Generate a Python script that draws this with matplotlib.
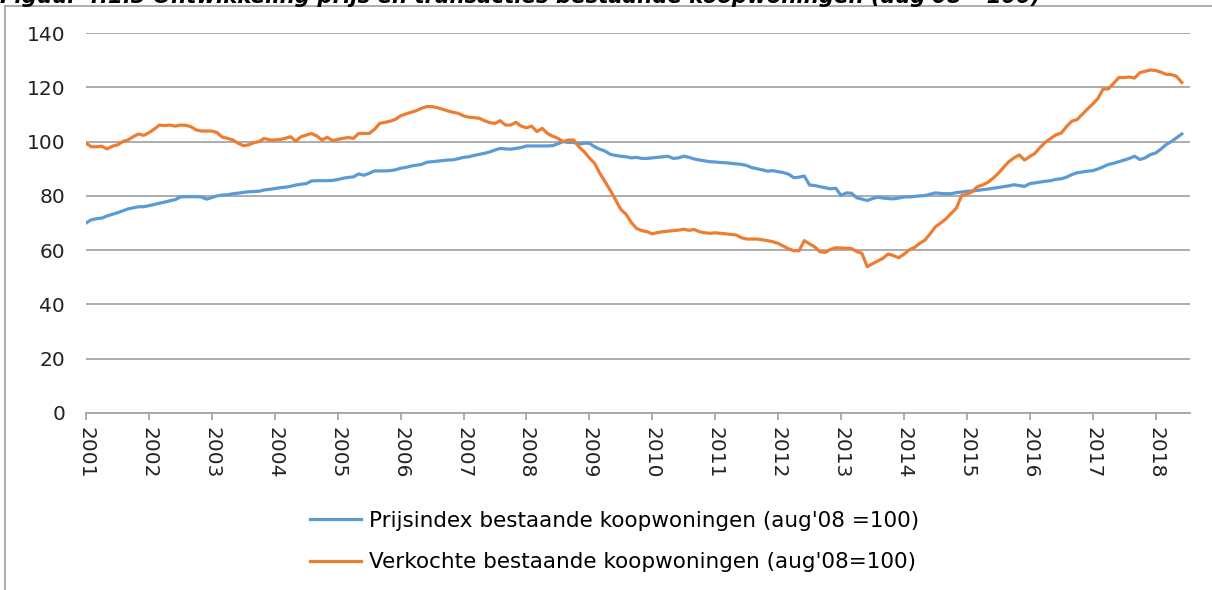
import matplotlib.pyplot as plt
import numpy as np

# monthly values, jan 2001 - jun 2018 (aug'08 = 100)
prijsindex = [
    70.0, 71.2, 71.6, 71.8, 72.6, 73.2, 73.8, 74.5, 75.2, 75.6, 76.0, 76.0,   # 2001
    76.4, 76.8, 77.3, 77.7, 78.2, 78.6, 79.6, 79.7, 79.7, 79.7, 79.6, 78.8,   # 2002
    79.4, 80.0, 80.3, 80.4, 80.8, 81.0, 81.3, 81.5, 81.6, 81.7, 82.2, 82.4,   # 2003
    82.7, 83.0, 83.2, 83.5, 84.0, 84.3, 84.5, 85.5, 85.6, 85.6, 85.6, 85.7,   # 2004
    86.0, 86.5, 86.8, 87.0, 88.1, 87.6, 88.3, 89.2, 89.2, 89.2, 89.3, 89.6,   # 2005
    90.2, 90.5, 91.0, 91.3, 91.6, 92.4, 92.6, 92.8, 93.0, 93.2, 93.3, 93.7,   # 2006
    94.2, 94.4, 94.9, 95.3, 95.7, 96.2, 96.9, 97.5, 97.3, 97.2, 97.5, 97.8,   # 2007
    98.4, 98.4, 98.4, 98.4, 98.4, 98.5, 99.2, 100.0, 99.7, 99.7, 99.1, 99.4,  # 2008
    99.4, 98.1, 97.2, 96.5, 95.3, 94.9, 94.6, 94.4, 94.0, 94.2, 93.8, 93.8,   # 2009
    94.0, 94.2, 94.4, 94.6, 93.8, 94.0, 94.6, 94.2, 93.6, 93.2, 92.9, 92.6,   # 2010
    92.5, 92.3, 92.2, 92.0, 91.8, 91.6, 91.2, 90.4, 90.0, 89.6, 89.1, 89.3,   # 2011
    88.9, 88.6, 88.0, 86.7, 86.9, 87.3, 84.0, 83.8, 83.4, 83.0, 82.6, 82.8,   # 2012
    80.2, 81.1, 81.0, 79.3, 78.8, 78.3, 79.0, 79.5, 79.2, 79.0, 78.9, 79.2,   # 2013
    79.6, 79.6, 79.8, 80.0, 80.1, 80.6, 81.1, 80.9, 80.8, 80.8, 81.2, 81.4,   # 2014
    81.7, 81.8, 82.0, 82.3, 82.5, 82.8, 83.1, 83.4, 83.7, 84.1, 83.8, 83.5,   # 2015
    84.5, 84.8, 85.1, 85.4, 85.6, 86.1, 86.3, 86.9, 87.8, 88.5, 88.8, 89.1,   # 2016
    89.3, 89.9, 90.7, 91.6, 92.0, 92.6, 93.2, 93.8, 94.6, 93.4, 94.0, 95.2,   # 2017
    95.8, 97.2, 98.9, 100.0, 101.4, 102.8,                                    # 2018
]

verkocht = [
    99.4, 98.1, 98.1, 98.3, 97.3, 98.3, 98.8, 100.0, 100.6, 101.8, 102.8, 102.3,       # 2001
    103.3, 104.6, 106.1, 105.9, 106.1, 105.7, 106.1, 106.0, 105.5, 104.3, 103.9, 103.9,  # 2002
    103.9, 103.3, 101.6, 101.2, 100.6, 99.4, 98.5, 98.8, 99.6, 100.0, 101.2, 100.6,    # 2003
    100.6, 100.8, 101.2, 101.8, 100.2, 101.8, 102.4, 103.0, 102.1, 100.6, 101.6, 100.4,  # 2004
    100.8, 101.2, 101.5, 101.2, 103.0, 103.0, 103.0, 104.5, 106.7, 107.1, 107.5, 108.2,  # 2005
    109.5, 110.2, 110.8, 111.4, 112.3, 112.9, 112.9, 112.5, 111.9, 111.3, 110.8, 110.4,  # 2006
    109.5, 109.0, 108.8, 108.6, 107.7, 107.0, 106.7, 107.7, 106.1, 106.1, 107.1, 105.7,  # 2007
    105.1, 105.7, 103.7, 104.9, 103.0, 102.0, 101.2, 100.0, 100.6, 100.6, 98.1, 96.3,    # 2008
    94.0, 92.0, 88.3, 85.2, 82.0, 78.5, 75.0, 73.2, 70.2, 68.0, 67.2, 66.8,             # 2009
    66.0, 66.5, 66.8, 67.0, 67.2, 67.4, 67.7, 67.3, 67.6, 66.8, 66.4, 66.2,             # 2010
    66.4, 66.2, 66.0, 65.8, 65.6, 64.6, 64.1, 64.1, 64.1, 63.8, 63.5, 63.1,             # 2011
    62.5, 61.5, 60.5, 59.8, 59.8, 63.5, 62.3, 61.2, 59.4, 59.2, 60.3, 60.9,             # 2012
    60.8, 60.7, 60.6, 59.5, 58.8, 53.9, 55.0, 56.0, 57.0, 58.6, 58.0, 57.2,             # 2013
    58.5, 60.1, 61.0, 62.5, 63.7, 66.0, 68.6, 70.0, 71.5, 73.5, 75.5, 80.1,             # 2014
    80.6, 81.5, 83.4, 84.0, 85.0, 86.5, 88.3, 90.5, 92.6, 94.0, 95.1, 93.2,             # 2015
    94.5, 95.7, 97.9, 99.8, 101.2, 102.5, 103.1, 105.5, 107.5, 108.1, 110.0, 112.0,      # 2016
    113.8, 115.9, 119.4, 119.4, 121.5, 123.6, 123.6, 123.8, 123.4, 125.4, 125.9, 126.4,  # 2017
    126.2, 125.6, 124.8, 124.7, 124.0, 121.8,                                            # 2018
]

years = list(range(2001, 2019))
label_prijs = "Prijsindex bestaande koopwoningen (aug'08 =100)"
label_verkocht = "Verkochte bestaande koopwoningen (aug'08=100)"
title = "Figuur 4.1.3 Ontwikkeling prijs en transacties bestaande koopwoningen (aug'08 =100)"

t = 2001 + np.arange(len(prijsindex)) / 12.0

fig = plt.figure(figsize=(12.12, 5.90), dpi=100)
ax = fig.add_axes([0.071, 0.30, 0.911, 0.644])

ax.plot(t, prijsindex, color='#5b9bd5', lw=2.3, label=label_prijs)
ax.plot(t, verkocht, color='#ed7d31', lw=2.3, label=label_verkocht)

ax.set_ylim(0, 140)
ax.set_xlim(2001, 2018.55)
ax.set_yticks(range(0, 141, 20))
ax.set_xticks(years)
ax.set_xticklabels([str(y) for y in years], rotation=-90)
ax.yaxis.grid(True, color='#a6a6a6', lw=1.3)
ax.set_axisbelow(True)
for s in ['left', 'right', 'top']:
    ax.spines[s].set_visible(False)
ax.spines['bottom'].set_color('#a6a6a6')
ax.spines['bottom'].set_linewidth(1.3)
ax.tick_params(axis='y', length=0, labelsize=14.5, pad=15, colors='#222222')
ax.tick_params(axis='x', length=5, width=1.3, color='#a6a6a6', labelsize=14.5,
               pad=5, labelcolor='#222222')

fig.legend(loc='center', bbox_to_anchor=(0.507, 0.082), frameon=False,
           fontsize=15.5, handlelength=2.4, handletextpad=0.35, labelspacing=1.0)

# frame around the chart (only top and left are in view)
fig.add_artist(plt.Line2D([0.004, 0.004], [0, 0.9893], color='#a0a0a0', lw=1.2))
fig.add_artist(plt.Line2D([0.004, 1.0], [0.9893, 0.9893], color='#a0a0a0', lw=1.2))

# title is cut off at the top edge of the picture, as in the source
fig.text(0.0, 0.9955, title, fontsize=15.3, fontweight='bold', fontstyle='italic',
         va='baseline', ha='left')

fig.savefig('out.png', dpi=100)
